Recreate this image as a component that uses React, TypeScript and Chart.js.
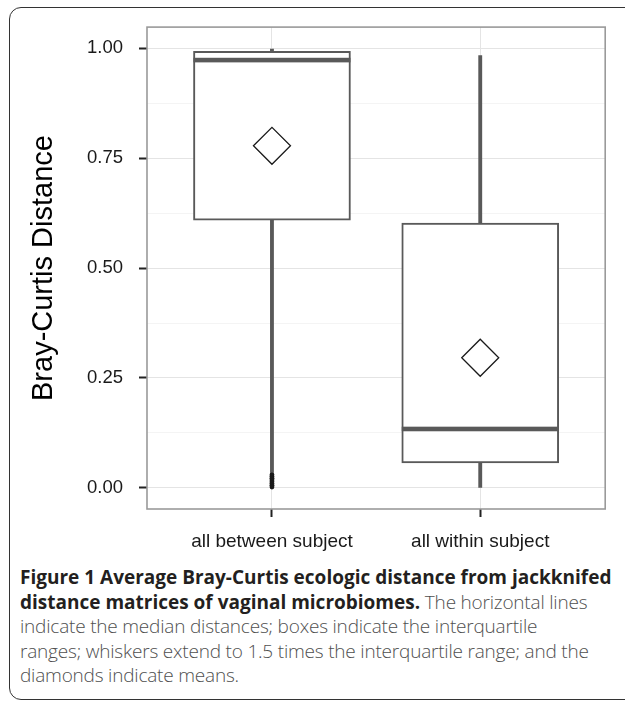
import React, { useEffect, useRef } from "react";
import { Chart, registerables } from "chart.js";

Chart.register(...registerables);

const categories = ["all between subject", "all within subject"];
const lowerWhisker = [0.035, 0.0];
const q1 = [0.609, 0.057];
const median = [0.973, 0.134];
const q3 = [0.993, 0.602];
const upperWhisker = [0.998, 0.983];
const means = [0.778, 0.296];
const outliersBetween = [0.002, 0.006, 0.01, 0.014, 0.018, 0.022, 0.026, 0.03];
const yTickValues = [0, 0.125, 0.25, 0.375, 0.5, 0.625, 0.75, 0.875, 1.0];
const yTickLabels: Record<string, string> = {
  "0": "0.00",
  "0.25": "0.25",
  "0.5": "0.50",
  "0.75": "0.75",
  "1": "1.00",
};

const BOX_COLOR = "#595959";
const SANS = "'Liberation Sans', Arial, Helvetica, sans-serif";

const isMajor = (v: number) => yTickLabels[String(v)] !== undefined;

const panelPlugin = {
  id: "panelAndMedians",
  afterDatasetDraw(chart: any, args: any) {
    if (args.index !== 1) return;
    const ctx = chart.ctx;
    const yScale = chart.scales.y;
    const meta = chart.getDatasetMeta(1);
    ctx.save();
    ctx.fillStyle = BOX_COLOR;
    meta.data.forEach((bar: any, i: number) => {
      const y = yScale.getPixelForValue(median[i]);
      const half = bar.width / 2;
      ctx.fillRect(bar.x - half, y - 2.3, bar.width, 4.6);
    });
    ctx.restore();
  },
  afterDraw(chart: any) {
    const { ctx, chartArea } = chart;
    ctx.save();
    ctx.strokeStyle = "#9a9a9a";
    ctx.lineWidth = 1.6;
    ctx.strokeRect(
      chartArea.left,
      chartArea.top,
      chartArea.right - chartArea.left,
      chartArea.bottom - chartArea.top
    );
    ctx.restore();
  },
};

function BoxChart() {
  const ref = useRef<HTMLCanvasElement | null>(null);
  useEffect(() => {
    if (!ref.current) return;
    const chart = new Chart(ref.current, {
      type: "bar",
      data: {
        datasets: [
          {
            type: "bar",
            label: "whiskers",
            data: categories.map((_, i) => ({ x: i + 1, y: [lowerWhisker[i], upperWhisker[i]] })) as any,
            backgroundColor: BOX_COLOR,
            borderWidth: 0,
            barThickness: 3.2,
            grouped: false,
            order: 4,
          } as any,
          {
            type: "bar",
            label: "boxes",
            data: categories.map((_, i) => ({ x: i + 1, y: [q1[i], q3[i]] })) as any,
            backgroundColor: "#ffffff",
            borderColor: BOX_COLOR,
            borderWidth: 2,
            borderSkipped: false,
            barThickness: 157,
            grouped: false,
            order: 3,
          } as any,
          {
            type: "scatter",
            label: "outliers",
            data: outliersBetween.map((v) => ({ x: 1, y: v })),
            pointRadius: 2.4,
            pointBackgroundColor: "#1a1a1a",
            pointBorderWidth: 0,
            order: 2,
          } as any,
          {
            type: "scatter",
            label: "means",
            data: categories.map((_, i) => ({ x: i + 1, y: means[i] })),
            pointStyle: "rectRot",
            pointRadius: 18.5,
            pointBorderColor: "#1a1a1a",
            pointBorderWidth: 1.3,
            pointBackgroundColor: "rgba(0,0,0,0)",
            order: 1,
          } as any,
        ],
      },
      options: {
        animation: false,
        responsive: false,
        maintainAspectRatio: false,
        events: [],
        layout: { padding: { top: 25, right: 18, left: 0, bottom: 0 } },
        plugins: { legend: { display: false }, tooltip: { enabled: false } },
        scales: {
          x: {
            type: "linear",
            min: 0.4,
            max: 2.6,
            offset: false,
            afterBuildTicks: (scale: any) => {
              scale.ticks = categories.map((_, i) => ({ value: i + 1 }));
            },
            afterFit: (scale: any) => {
              scale.height = 51;
            },
            grid: {
              offset: false,
              color: "#e4e4e4",
              lineWidth: 1,
              tickColor: "#222",
              tickLength: 8,
              tickWidth: 2,
            },
            border: { display: false },
            ticks: {
              autoSkip: false,
              maxRotation: 0,
              padding: 13,
              color: "#1a1a1a",
              font: { family: SANS, size: 19 },
              callback: (v: any) => categories[Number(v) - 1] ?? "",
            },
          },
          y: {
            type: "linear",
            min: -0.048,
            max: 1.048,
            afterBuildTicks: (scale: any) => {
              scale.ticks = yTickValues.map((v) => ({ value: v }));
            },
            afterFit: (scale: any) => {
              scale.width = 147;
            },
            grid: {
              color: (c: any) => (isMajor(c.tick?.value) ? "#e4e4e4" : "#f4f4f4"),
              lineWidth: 1,
              tickColor: (c: any) => (isMajor(c.tick?.value) ? "#222" : "rgba(0,0,0,0)"),
              tickLength: 8,
              tickWidth: 2,
            },
            border: { display: false },
            ticks: {
              autoSkip: false,
              padding: 16,
              color: "#1a1a1a",
              font: { family: SANS, size: 18.5 },
              callback: (v: any) => yTickLabels[String(v)] ?? "",
            },
            title: {
              display: true,
              text: "Bray-Curtis Distance",
              color: "#000",
              font: { family: SANS, size: 29 },
              padding: { top: 27, bottom: 0 },
            },
          },
        },
      } as any,
      plugins: [panelPlugin],
    });
    return () => chart.destroy();
  }, []);
  return (
    <canvas
      ref={ref}
      width={625}
      height={560}
      style={{ position: "absolute", left: 0, top: 0, width: 625, height: 560 }}
    />
  );
}

export default function App() {
  const bold = { fontWeight: 700, color: "#231f20", letterSpacing: "0px" } as const;
  return (
    <div
      style={{
        position: "fixed",
        left: 0,
        top: 0,
        width: 625,
        height: 702,
        overflow: "hidden",
        background: "#fff",
      }}
    >
      <div
        style={{
          position: "absolute",
          left: 9,
          top: 7,
          width: 680,
          height: 693,
          border: "1.6px solid #333",
          borderRadius: 12,
          boxSizing: "border-box",
        }}
      />
      <BoxChart />
      <div
        style={{
          position: "absolute",
          left: 20,
          top: 565,
          width: 605,
          whiteSpace: "nowrap",
          fontFamily: "'Open Sans', 'Noto Sans', sans-serif",
          fontSize: 19,
          lineHeight: "24.5px",
          color: "#4f4f4f",
          fontWeight: 300,
          letterSpacing: "-0.2px",
        }}
      >
        <span style={bold}>Figure 1 Average Bray-Curtis ecologic distance from jackknifed</span>
        <br />
        <span style={bold}>distance matrices of vaginal microbiomes.</span> The horizontal lines
        <br />
        indicate the median distances; boxes indicate the interquartile
        <br />
        ranges; whiskers extend to 1.5 times the interquartile range; and the
        <br />
        diamonds indicate means.
      </div>
    </div>
  );
}
